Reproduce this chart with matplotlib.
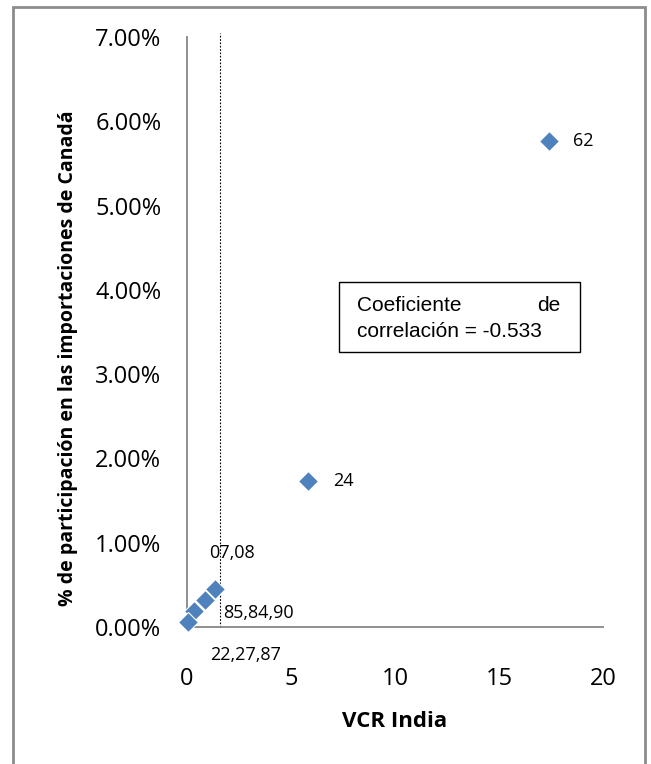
import matplotlib
matplotlib.use("Agg")
import matplotlib.pyplot as plt
from matplotlib.patches import Rectangle
from matplotlib.ticker import PercentFormatter

# VCR India vs share of Canadian imports, by chapter
vcr = [17.4, 5.82, 1.35, 0.87, 0.35, 0.03]
share = [0.0577, 0.0173, 0.0045, 0.0032, 0.0019, 0.0006]
point_labels = ["62", "24", "07,08", "85,84,90", "", "22,27,87"]
threshold = 1.6
coef_text = ("Coeficiente", "de", "correlación = -0.533")

plt.rcParams['font.family'] = ['Open Sans', 'DejaVu Sans']

fig = plt.figure(figsize=(6.51, 7.64), dpi=100)
ax = fig.add_axes([0.2873, 0.1793, 0.639, 0.7723])

ax.plot(vcr, share, linestyle='none', marker='D', markersize=10,
        color='#4F81BD', markeredgecolor='white', markeredgewidth=0.8,
        clip_on=False, zorder=3)

# data labels (offsets in points)
offsets = [(17, 0), (18, 0), (-4, 26), (13, -9), (0, 0), (16, -24)]
for x, y, lab, off in zip(vcr, share, point_labels, offsets):
    if lab:
        ax.annotate(lab, (x, y), xytext=off, textcoords='offset points',
                    ha='left', va='center', fontsize=13)

# vertical reference line
ax.plot([threshold, threshold], [0, 0.0705], linestyle=(0, (1.5, 1.5)),
        color='black', linewidth=0.8, clip_on=False)

ax.set_xlim(0, 20)
ax.set_ylim(0, 0.07)
ax.set_xticks([0, 5, 10, 15, 20])
ax.set_yticks([i / 100 for i in range(8)])
ax.yaxis.set_major_formatter(PercentFormatter(xmax=1, decimals=2))
ax.tick_params(axis='both', length=0, labelsize=17)
ax.tick_params(axis='x', pad=29)
ax.tick_params(axis='y', pad=18.5)

for side in ['top', 'right']:
    ax.spines[side].set_visible(False)
for side in ['left', 'bottom']:
    ax.spines[side].set_color('#868686')
    ax.spines[side].set_linewidth(1.3)

ax.set_xlabel('VCR India', fontsize=16, fontweight='bold')
ax.xaxis.set_label_coords(0.5, -0.142)
ax.set_ylabel('% de participación en las importaciones de Canadá',
              fontsize=14, fontweight='bold')
ax.yaxis.set_label_coords(-0.261, 0.456)

# correlation box
ax.add_patch(Rectangle((7.31, 0.0326), 11.6, 0.0083, fill=False,
                       edgecolor='black', linewidth=1.0, zorder=4))
ax.text(8.17, 0.0381, coef_text[0], family='Liberation Sans', fontsize=15,
        ha='left', va='center')
ax.text(17.93, 0.0381, coef_text[1], family='Liberation Sans', fontsize=15,
        ha='right', va='center')
ax.text(8.17, 0.0350, coef_text[2], family='Liberation Sans', fontsize=15,
        ha='left', va='center')

# chart frame
fig.add_artist(Rectangle((0.02, -0.02), 0.9705, 1.0108, transform=fig.transFigure,
                         fill=False, edgecolor='#8C8C8C', linewidth=2))

fig.savefig('out.png', dpi=100)
